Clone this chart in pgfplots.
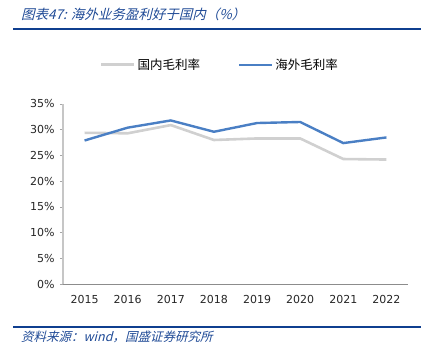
\documentclass[border=0pt]{standalone}
\usepackage{pgfplots}
\pgfplotsset{compat=1.18}
\usepackage{fontspec}
\setmainfont{DejaVu Sans}
\newfontfamily\cjk{Noto Sans CJK SC}
\newfontfamily\cjkit[FakeSlant=0.25]{Noto Sans CJK SC}
\definecolor{titleblue}{HTML}{1F4A96}
\definecolor{rule}{HTML}{0F3F8F}
\definecolor{seriesblue}{HTML}{4A7FC4}
\definecolor{seriesgray}{HTML}{D0D0D0}
\begin{document}
\begin{tikzpicture}[x=1pt,y=1pt]
\path[use as bounding box] (0pt,0pt) rectangle (430pt,355pt);
\draw[rule, line width=1.4pt] (13pt,326pt) -- (421pt,326pt);
\node[anchor=west, text=titleblue, font=\cjkit\fontsize{13.5}{15}\selectfont, inner sep=0pt] at (21pt,341pt) {图表47: 海外业务盈利好于国内（\%）};
\draw[rule, line width=1.2pt] (13pt,28pt) -- (421pt,28pt);
\node[anchor=west, text=titleblue, font=\cjkit\fontsize{12.5}{14}\selectfont, inner sep=0pt] at (21pt,18pt) {资料来源：wind，国盛证券研究所};
\begin{axis}[
  at={(63pt,71pt)}, anchor=south west,
  scale only axis, width=345pt, height=180pt,
  xmin=-0.5, xmax=7.5, ymin=0, ymax=35,
  axis x line*=bottom, axis y line*=left,
  x axis line style={draw=gray!90, line width=0.8pt, -},
  y axis line style={draw=gray!45, line width=1.2pt, -},
  /pgf/number format/assume math mode=true,
  tick label style={font=\fontsize{11}{13}\selectfont, text=black!85},
  ytick={0,5,...,35},
  yticklabel={\pgfmathprintnumber{\tick}\%},
  yticklabel style={xshift=-2pt},
  tick align=outside,
  major tick length=3pt,
  ytick style={draw=gray!70, line width=0.6pt},
  xtick={0,...,7},
  xticklabels={2015,2016,2017,2018,2019,2020,2021,2022},
  xtick style={draw=none},
  xticklabel style={yshift=-5pt},
  extra x ticks={-0.5,0.5,...,7.5},
  extra x tick labels={},
  extra x tick style={tick align=inside, major tick length=4pt, tick style={draw=gray!70, line width=0.6pt}},
  legend style={at={(rel axis cs:0.455,1)}, anchor=south, yshift=29pt, draw=none, fill=none,
    legend columns=2, font=\cjk\fontsize{12.5}{14}\selectfont,
    /tikz/every even column/.append style={column sep=36pt}},
  legend image code/.code={\draw[#1] (0pt,0pt) -- (33pt,0pt);},
  clip=false,
]
\addplot[seriesgray, line width=2.6pt] coordinates {(0,29.4) (1,29.3) (2,30.9) (3,28.0) (4,28.3) (5,28.3) (6,24.3) (7,24.2)};
\addlegendentry{国内毛利率}
\addplot[seriesblue, line width=2.4pt] coordinates {(0,27.9) (1,30.4) (2,31.8) (3,29.6) (4,31.3) (5,31.5) (6,27.4) (7,28.5)};
\addlegendentry{海外毛利率}
\end{axis}
\end{tikzpicture}
\end{document}
